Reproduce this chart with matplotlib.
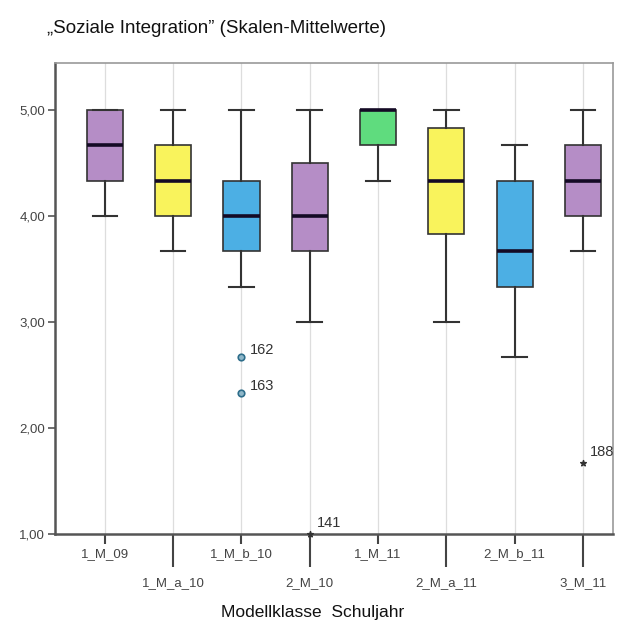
import matplotlib
matplotlib.use('Agg')
import matplotlib.pyplot as plt

plt.rcParams['font.family'] = ['Liberation Sans', 'DejaVu Sans']

# box data
klassen = ['1_M_09', '1_M_a_10', '1_M_b_10', '2_M_10', '1_M_11', '2_M_a_11', '2_M_b_11', '3_M_11']
whislo = [4.00, 3.67, 3.33, 3.00, 4.33, 3.00, 2.67, 3.67]
q1 = [4.33, 4.00, 3.67, 3.67, 4.67, 3.83, 3.33, 4.00]
med = [4.67, 4.33, 4.00, 4.00, 5.00, 4.33, 3.67, 4.33]
q3 = [5.00, 4.67, 4.33, 4.50, 5.00, 4.83, 4.33, 4.67]
whishi = [5.00, 5.00, 5.00, 5.00, 5.00, 5.00, 4.67, 5.00]
farben = ['#b58dc6', '#f9f35c', '#4cafe4', '#b58dc6', '#5fdc7e', '#f9f35c', '#4cafe4', '#b58dc6']

# outliers (circle) and extreme values (star): class index, value, case number
ausreisser_idx = [3, 3]
ausreisser_wert = [2.67, 2.33]
ausreisser_nr = ['162', '163']
extrem_idx = [4, 8]
extrem_wert = [1.00, 1.67]
extrem_nr = ['141', '188']

fig = plt.figure(figsize=(6.3, 6.23), dpi=100)
ax = fig.add_axes([0.0873, 0.1429, 0.8857, 0.756])

stats = []
for i in range(len(klassen)):
    stats.append({'whislo': whislo[i], 'q1': q1[i], 'med': med[i],
                  'q3': q3[i], 'whishi': whishi[i], 'fliers': []})

pos = list(range(1, len(klassen) + 1))
bp = ax.bxp(stats, positions=pos, widths=0.53, patch_artist=True,
            showfliers=False,
            boxprops=dict(linewidth=1.2, edgecolor='#333333'),
            medianprops=dict(color='#140a25', linewidth=2.6),
            whiskerprops=dict(color='#333333', linewidth=1.5),
            capprops=dict(color='#333333', linewidth=1.5),
            capwidths=0.36, zorder=3)
for box, c in zip(bp['boxes'], farben):
    box.set_facecolor(c)

ax.scatter(ausreisser_idx, ausreisser_wert, s=22, facecolor='#8fb7c9',
           edgecolor='#2d6d8a', linewidth=1.2, zorder=4)
for x, y, t in zip(ausreisser_idx, ausreisser_wert, ausreisser_nr):
    ax.text(x + 0.12, y, t, fontsize=10.5, color='#333333', va='bottom')

ax.scatter(extrem_idx, extrem_wert, marker='*', s=18, color='#333333', zorder=4,
           clip_on=False)
for x, y, t in zip(extrem_idx, extrem_wert, extrem_nr):
    ax.text(x + 0.1, y + 0.04, t, fontsize=10.5, color='#333333', va='bottom')

ax.set_xlim(0.27, 8.44)
ax.set_ylim(1.0, 5.44)
ax.set_yticks([1, 2, 3, 4, 5])
ax.set_yticklabels(['1,00', '2,00', '3,00', '4,00', '5,00'])
ax.tick_params(axis='y', length=5, width=1.2, color='#555555', labelsize=9.5,
               labelcolor='#444444', pad=2)

# alternating tick label rows
ax.set_xticks(pos[0::2], klassen[0::2])
ax.set_xticks(pos[1::2], klassen[1::2], minor=True)
ax.tick_params(axis='x', which='major', length=7, width=1.5, color='#444444',
               labelsize=9.5, labelcolor='#444444', pad=3)
ax.tick_params(axis='x', which='minor', length=24, width=1.5, color='#444444',
               labelsize=9.5, labelcolor='#444444', pad=7)

for p in pos:
    ax.axvline(p, color='#dddddd', linewidth=0.9, zorder=0)

for s in ['top', 'right']:
    ax.spines[s].set_color('#999999')
    ax.spines[s].set_linewidth(1.2)
for s in ['bottom', 'left']:
    ax.spines[s].set_color('#555555')
    ax.spines[s].set_linewidth(1.8)

fig.text(313 / 630, 1 - 612 / 623, 'Modellklasse  Schuljahr', fontsize=12.5,
         color='#111111', ha='center', va='center')
fig.text(0.075, 0.955, '\u201eSoziale Integration\u201d (Skalen-Mittelwerte)',
         fontsize=13.5, color='#111111', va='center')

fig.savefig('out.png', dpi=100)
